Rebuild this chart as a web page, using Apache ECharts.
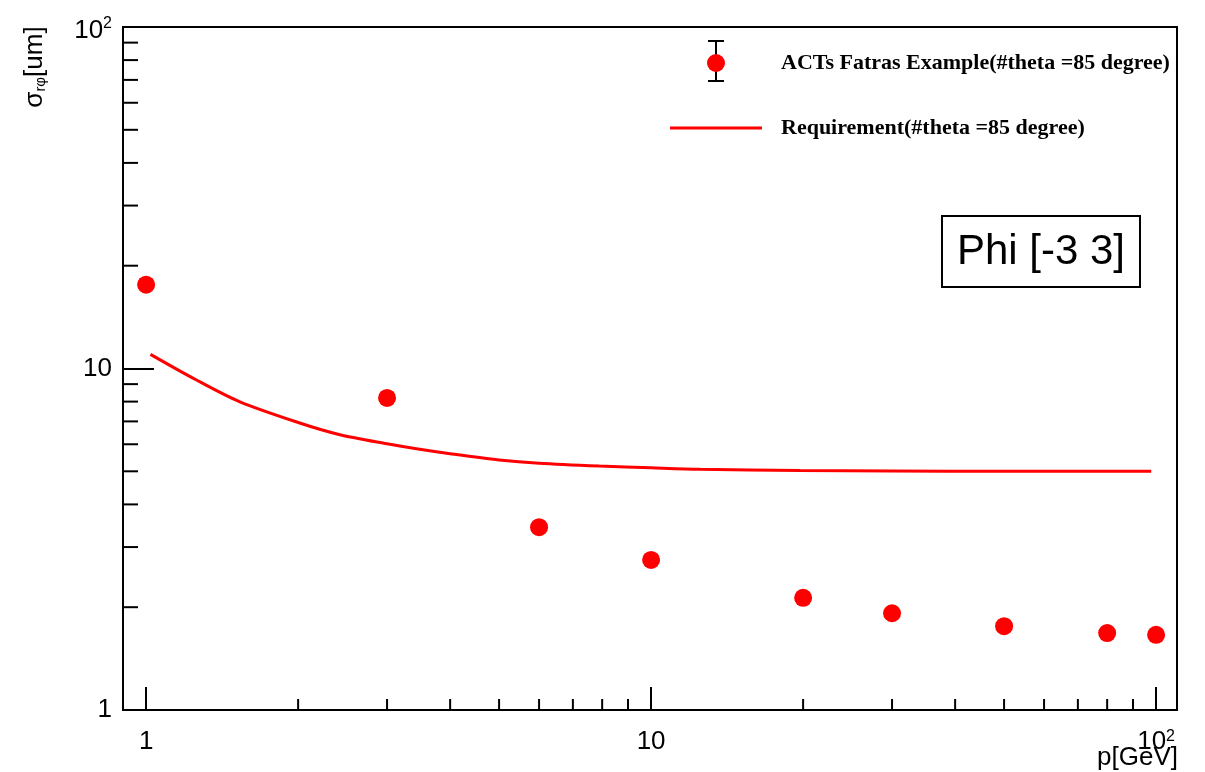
<!DOCTYPE html>
<html>
<head>
<meta charset="utf-8">
<script src="https://cdn.jsdelivr.net/npm/echarts@6/dist/echarts.min.js"></script>
<style>
  html, body { margin: 0; padding: 0; background: #fff; }
  #chart { width: 1205px; height: 772px; }
</style>
</head>
<body>
<div id="chart"></div>
<script>
// measured points (p in GeV, sigma in um)
const pValues = [1, 3, 6, 10, 20, 30, 50, 80, 100];
const sigmaValues = [17.6, 8.2, 3.43, 2.75, 2.13, 1.92, 1.76, 1.68, 1.66];

// requirement curve
const reqP = [1.02, 1.25, 1.53, 2, 2.42, 3, 3.48, 4, 5, 6, 7.9, 10, 12.5, 19.7, 30, 50, 97.8];
const reqSigma = [11.0, 9.30, 8.00, 6.95, 6.40, 6.02, 5.80, 5.63, 5.40, 5.28, 5.18, 5.12, 5.07, 5.03, 5.01, 5.0, 5.0];

// axis ranges and minor ticks
const xRange = [0.9, 110];
const yRange = [1, 100];
const xMinorTicks = [2, 3, 4, 5, 6, 7, 8, 9, 20, 30, 40, 50, 60, 70, 80, 90];
const yMinorTicks = [2, 3, 4, 5, 6, 7, 8, 9, 20, 30, 40, 50, 60, 70, 80, 90];

const dataName = 'ACTs Fatras Example(#theta =85 degree)';
const reqName = 'Requirement(#theta =85 degree)';

const sansFont = '"Liberation Sans", Arial, Helvetica, sans-serif';

const chart = echarts.init(document.getElementById('chart'));

// label 1, 10, 10^2 like ROOT does
function powLabel(hundred) {
  return function (v) {
    const r = Math.round(v);
    if (Math.abs(v - r) > 1e-6) return '';
    if (r === 1) return '1';
    if (r === 10) return '10';
    if (r === 100) return hundred;
    return '';
  };
}

function minorTick(horizontal, len) {
  return function (params, api) {
    const p = api.coord([api.value(0), api.value(1)]);
    const shape = horizontal
      ? { x1: p[0], y1: p[1], x2: p[0] + len, y2: p[1] }
      : { x1: p[0], y1: p[1], x2: p[0], y2: p[1] - len };
    return { type: 'line', shape: shape, style: { stroke: '#000', lineWidth: 2 } };
  };
}

const options = {
  backgroundColor: '#fff',
  animation: false,
  grid: {
    left: 123, right: 28, top: 27, bottom: 62,
    show: true, borderColor: '#000', borderWidth: 2
  },
  xAxis: {
    type: 'log', logBase: 10, min: xRange[0], max: xRange[1],
    axisLine: { show: true, lineStyle: { color: '#000', width: 2 } },
    axisTick: { show: true, inside: true, length: 23, lineStyle: { color: '#000', width: 2 } },
    splitLine: { show: false },
    axisLabel: {
      formatter: powLabel('10{sup|2}'), margin: 19, fontSize: 26, color: '#000', fontFamily: sansFont,
      rich: { sup: { fontSize: 16, verticalAlign: 'top', fontFamily: sansFont, color: '#000' } }
    }
  },
  yAxis: {
    type: 'log', logBase: 10, min: yRange[0], max: yRange[1],
    axisLine: { show: true, lineStyle: { color: '#000', width: 2 } },
    axisTick: { show: true, inside: true, length: 31, lineStyle: { color: '#000', width: 2 } },
    splitLine: { show: false },
    axisLabel: {
      formatter: powLabel('{p|10}{sup|2}'), margin: 11, fontSize: 26, color: '#000', fontFamily: sansFont,
      rich: {
        p: { fontSize: 26, fontFamily: sansFont, color: '#000', padding: [8, 0, 0, 0] },
        sup: { fontSize: 16, verticalAlign: 'top', fontFamily: sansFont, color: '#000', padding: [6, 0, 0, 0] }
      }
    }
  },
  legend: {
    orient: 'vertical', left: 670, top: 51, padding: 0,
    itemWidth: 92, itemHeight: 18, itemGap: 41,
    textStyle: {
      fontFamily: '"Liberation Serif", "Times New Roman", serif', fontWeight: 'bold',
      fontSize: 22, lineHeight: 24, color: '#000', padding: [0, 0, 0, 14]
    },
    data: [
      { name: dataName, icon: 'circle' },
      { name: reqName, icon: 'path://M0,0H92V3H0Z' }
    ]
  },
  graphic: [
    // error bar glyph of the legend marker
    { type: 'line', shape: { x1: 716, y1: 41, x2: 716, y2: 81 }, style: { stroke: '#000', lineWidth: 2 }, z: 0 },
    { type: 'line', shape: { x1: 708, y1: 41, x2: 724, y2: 41 }, style: { stroke: '#000', lineWidth: 2 }, z: 0 },
    { type: 'line', shape: { x1: 708, y1: 81, x2: 724, y2: 81 }, style: { stroke: '#000', lineWidth: 2 }, z: 0 },
    // Phi box
    {
      type: 'rect', shape: { x: 942, y: 216, width: 198, height: 71 },
      style: { fill: '#fff', stroke: '#000', lineWidth: 2 }, z: 10
    },
    {
      type: 'text', x: 1041, y: 252, z: 11,
      style: { text: 'Phi [-3 3]', font: '42px ' + sansFont, fill: '#000', textAlign: 'center', textVerticalAlign: 'middle' }
    },
    // axis titles
    {
      type: 'text', x: 1178, y: 758, z: 11,
      style: { text: 'p[GeV]', font: '26px ' + sansFont, fill: '#000', textAlign: 'right', textVerticalAlign: 'middle' }
    },
    {
      type: 'text', x: 35, y: 67, rotation: Math.PI / 2, z: 11,
      style: {
        text: 'σ{sub|rφ}[um]', font: '26px ' + sansFont, fill: '#000',
        textAlign: 'center', textVerticalAlign: 'middle',
        rich: { sub: { fontSize: 15, verticalAlign: 'bottom', fontFamily: sansFont, fill: '#000' } }
      }
    }
  ],
  series: [
    {
      name: reqName, type: 'line', smooth: 0.3, showSymbol: false,
      color: '#ff0000', lineStyle: { color: '#ff0000', width: 3 },
      data: reqP.map((p, i) => [p, reqSigma[i]]), z: 3
    },
    {
      name: dataName, type: 'scatter', symbol: 'circle', symbolSize: 18,
      color: '#ff0000', itemStyle: { color: '#ff0000', opacity: 1 },
      data: pValues.map((p, i) => [p, sigmaValues[i]]), z: 4
    },
    {
      type: 'custom', silent: true, renderItem: minorTick(false, 11),
      data: xMinorTicks.map(v => [v, yRange[0]]), z: 5
    },
    {
      type: 'custom', silent: true, renderItem: minorTick(true, 15),
      data: yMinorTicks.map(v => [xRange[0], v]), z: 5
    }
  ]
};

chart.setOption(options);
</script>
</body>
</html>
